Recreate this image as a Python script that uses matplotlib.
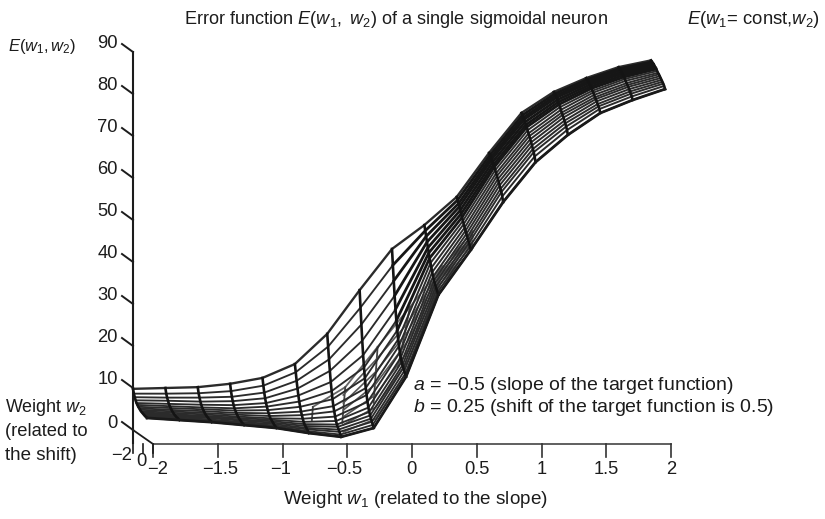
import matplotlib
matplotlib.use("Agg")
import matplotlib.pyplot as plt
import numpy as np

plt.rcParams['font.family'] = ['Liberation Sans', 'DejaVu Sans']
plt.rcParams['mathtext.fontset'] = 'custom'
plt.rcParams['mathtext.rm'] = 'Liberation Sans'
plt.rcParams['mathtext.it'] = 'Liberation Sans:italic'

w1 = [-2, -1.75, -1.5, -1.25, -1, -0.75, -0.5, -0.25, 0, 0.25, 0.5, 0.75, 1, 1.25, 1.5, 1.75, 2]
w2 = [-2, -1.825, -1.65, -1.475, -1.3, -1.125, -0.95, -0.775, -0.6, -0.425, -0.25, -0.075, 0.1, 0.275, 0.45, 0.625, 0.8]

# one list per w1 column, rows run along w2
E = np.array([
    [9.8, 8.8, 8.1, 7.5, 7.0, 6.7, 6.4, 6.2, 6.0, 5.8, 5.7, 5.6, 5.5, 5.4, 5.3, 5.3, 5.2],
    [10, 8.8, 8.0, 7.4, 6.8, 6.4, 6.1, 5.8, 5.6, 5.4, 5.2, 5.1, 5.0, 4.9, 4.9, 4.8, 4.7],
    [10.2, 8.9, 8.0, 7.2, 6.6, 6.1, 5.8, 5.5, 5.2, 5.0, 4.8, 4.7, 4.6, 4.4, 4.4, 4.3, 4.2],
    [11, 9.4, 8.2, 7.3, 6.5, 5.9, 5.5, 5.1, 4.8, 4.5, 4.3, 4.1, 4.0, 3.8, 3.7, 3.6, 3.5],
    [12.4, 10.7, 9.2, 8.0, 7.0, 6.3, 5.6, 5.0, 4.5, 4.1, 3.9, 3.7, 3.5, 3.3, 3.1, 3.0, 2.8],
    [15.7, 13.9, 12.0, 10.3, 8.8, 7.5, 6.4, 5.4, 4.7, 4.0, 3.4, 3.0, 2.7, 2.4, 2.2, 1.9, 1.6],
    [22.9, 20.0, 17.1, 14.5, 12.0, 10.0, 8.2, 6.7, 5.6, 4.5, 3.6, 2.9, 2.5, 2.0, 1.6, 1.1, 0.7],
    [33.3, 29.3, 25.4, 21.7, 18.4, 15.6, 13.2, 11.0, 9.5, 8.0, 6.8, 5.9, 5.2, 4.6, 4.0, 3.4, 2.8],
    [43.1, 39.4, 35.8, 32.4, 29.3, 26.8, 24.6, 22.6, 21.2, 19.8, 18.7, 17.8, 17.2, 16.7, 16.1, 15.5, 15],
    [48.8, 47.6, 46.4, 45.2, 44.0, 42.9, 41.8, 40.8, 39.8, 38.9, 38.0, 37.2, 36.6, 36.0, 35.5, 35.0, 34.5],
    [55.5, 54.9, 54.2, 53.6, 52.9, 52.2, 51.5, 50.8, 50.2, 49.5, 48.9, 48.3, 47.7, 47.1, 46.6, 45.9, 45.2],
    [66, 65.6, 65.2, 64.9, 64.4, 63.9, 63.5, 62.9, 62.3, 61.8, 61.2, 60.6, 60, 59.3, 58.7, 57.8, 56.6],
    [75.5, 75.1, 74.7, 74.4, 73.9, 73.4, 73, 72.4, 71.8, 71.3, 70.7, 70.1, 69.5, 68.8, 68.2, 67.3, 66.1],
    [80.5, 80.2, 79.9, 79.6, 79.2, 78.8, 78.4, 77.9, 77.4, 76.9, 76.5, 76, 75.4, 74.9, 74.3, 73.6, 72.6],
    [83.8, 83.6, 83.3, 83.1, 82.8, 82.5, 82.2, 81.8, 81.5, 81.1, 80.7, 80.4, 80, 79.5, 79.1, 78.6, 77.8],
    [86.4, 86.2, 86, 85.7, 85.5, 85.2, 84.9, 84.6, 84.3, 83.9, 83.6, 83.3, 82.9, 82.5, 82.1, 81.6, 80.9],
    [88, 87.8, 87.6, 87.5, 87.2, 87, 86.8, 86.5, 86.2, 86, 85.7, 85.4, 85.1, 84.8, 84.5, 84.1, 83.5],
])

# the folded bit seen behind the front rows
fold_w1 = [-0.75, -0.5, -0.25, 0, 0.25]
fold_top = [8.5, 13.2, 22.8, 32.3, 42]
fold_w2_top = 1.6
fold_low = [5.2, 4.2, 8.8, 16]
fold_w2_low = [1.4, 1.0, 0.8, -0.8]

fan_w1 = [-0.5, -0.25, 0, 0.25, 0.5]
fan_w2 = 1.2
fan_rows = [
    [11, 19.3, 28.2, 40.8, 50],
    [9.1, 16.5, 26.2, 40, 49.1],
    [7.4, 13.6, 23.9, 39.1, 48.4],
    [5.8, 11, 21.5, 38.4, 47.7],
    [3.9, 8.1, 19.1, 37.4, 46.9],
    [2.2, 5.3, 17, 36.5, 46],
]

z_ticks = [0, 10, 20, 30, 40, 50, 60, 70, 80, 90]
w1_ticks = [-2, -1.5, -1, -0.5, 0, 0.5, 1, 1.5, 2]
w1_tick_labels = ['\u22122', '\u22121.5', '\u22121', '\u22120.5', '0', '0.5', '1', '1.5', '2']
w1_label_shift = [5, 2, -2, -3, -1, 0, 0, 0, 0]
w2_ticks = [-2, 0, 2]


def proj(a, b, z):
    # oblique view of the box, result is in image pixels
    a = np.asarray(a, dtype=float)
    b = np.asarray(b, dtype=float)
    z = np.asarray(z, dtype=float)
    return 133 + 129.5 * (a + 2) + 5 * (b + 2), 430 - 4.2 * z + 3.5 * (b + 2)


fig = plt.figure(figsize=(8.25, 5.19), dpi=100)
ax = fig.add_axes([0, 0, 1, 1])
ax.set_xlim(0, 825)
ax.set_ylim(519, 0)
ax.axis('off')

ink = '#1c1c1c'
tick_fs = 13.2

# box lines
x, y = proj([-2, -2], [-2, -2], [90, -3])
ax.plot(x, y, color=ink, lw=1.5)
x, y = proj([-2, 2], [2, 2], [0, 0])
ax.plot(x, y, color='#444444', lw=1.2)
x, y = proj([-2, -2], [-2, 2], [0, 0])
ax.plot(x, y, color=ink, lw=1.3)

for t in z_ticks:
    x, y = proj(-2, -2, t)
    ax.plot([x - 11, x], [y - 8, y], color=ink, lw=1.4)
    if t == 0:
        ax.text(x - 16, y - 7, str(t), ha='right', va='center', fontsize=tick_fs, color=ink)
    else:
        ax.text(x - 15, y - 9, str(t), ha='right', va='center', fontsize=tick_fs, color=ink)

for t, lab, s in zip(w1_ticks, w1_tick_labels, w1_label_shift):
    x, y = proj(t, 2, 0)
    ax.plot([x, x], [y, y + 13], color='#333333', lw=1.2)
    ax.text(x + s, y + 25, lab, ha='center', va='center', fontsize=tick_fs, color=ink)

for t in w2_ticks:
    x, y = proj(-2, t, 0)
    ax.plot([x, x], [443.5, 453], color=ink, lw=1.2)

ax.text(132, 455, '\u22122', ha='right', va='center', fontsize=tick_fs, color=ink)
ax.text(141, 462, '0', ha='center', va='center', fontsize=tick_fs, color=ink)

# fold behind
x, y = proj(fold_w1, fold_w2_top, fold_top)
ax.plot(x, y, color='#666666', lw=1.3)
for i in range(len(fold_low)):
    xa, ya = proj(fold_w1[i], fold_w2_top, fold_top[i])
    xb, yb = proj(fold_w1[i], fold_w2_low[i], fold_low[i])
    ax.plot([xa, xb], [ya, yb], color='#444444', lw=1.3)
for row in fan_rows:
    x, y = proj(fan_w1, fan_w2, row)
    ax.plot(x, y, color='#555555', lw=1.2)

# rows along w1, thick on the steep right part where they pile up
for j in range(len(w2)):
    x, y = proj(w1, w2[j], E[:, j])
    if j == 0:
        ax.plot(x, y, color='#2b2b2b', lw=1.7, solid_joinstyle='round')
    else:
        ax.plot(x[:9], y[:9], color='#2b2b2b', lw=1.35, solid_joinstyle='round')
        ax.plot(x[8:], y[8:], color='#161616' if j < 7 else '#2b2b2b', lw=2.0 if j < 7 else 1.4, solid_joinstyle='round')

# columns along w2
for i in range(len(w1)):
    x, y = proj(w1[i], w2, E[i, :])
    ax.plot(x, y, color='#141414', lw=1.9, solid_joinstyle='round')

x, y = proj(w1, w2[-1], E[:, -1])
ax.plot(x, y, color='#1a1a1a', lw=2.0)

ax.text(184, 20, r'Error function $E(w_1,\ w_2)$ of a single sigmoidal neuron', fontsize=13.1, va='center', color=ink)
ax.text(687, 20, r'$E(w_1$= const,$w_2)$', fontsize=13.3, va='center', color=ink)
ax.text(8, 47, r'$E(w_1,w_2)$', fontsize=12, va='center', color=ink)
ax.text(5, 408, r'Weight $w_2$', fontsize=12.9, va='center', color=ink)
ax.text(5, 431, '(related to', fontsize=13.2, va='center', color=ink)
ax.text(5, 455, 'the shift)', fontsize=13.5, va='center', color=ink)
ax.text(283, 500, r'Weight $w_1$ (related to the slope)', fontsize=13.6, va='center', color=ink)
ax.text(413, 385, '$a$ = \u22120.5 (slope of the target function)', fontsize=14, va='center', color=ink)
ax.text(413, 408, '$b$ = 0.25 (shift of the target function is 0.5)', fontsize=14, va='center', color=ink)

fig.savefig('out.png', dpi=100)
